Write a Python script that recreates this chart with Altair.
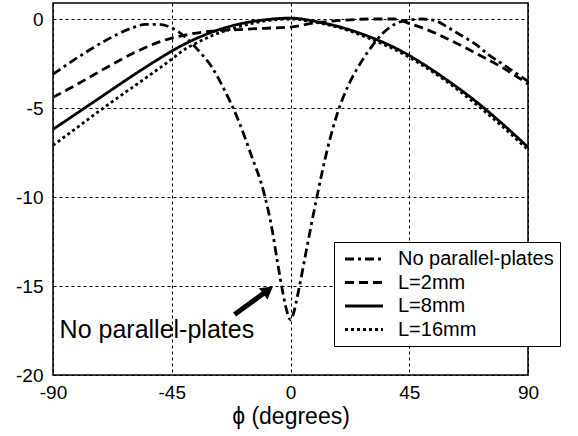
import altair as alt
import pandas as pd

FONT = "Liberation Sans"

series_names = ["No parallel-plates", "L=2mm", "L=8mm", "L=16mm"]

phi_np = [-90, -80, -70, -60, -55, -50, -45, -40, -35, -30, -25, -20, -15, -10, -7, -5, -3, -1, 0,
          1, 3, 6, 10, 14, 18, 22, 26, 30, 35, 40, 45, 50, 55, 60, 65, 70, 75, 80, 85, 90]
val_np = [-3.1, -2.1, -1.2, -0.5, -0.3, -0.3, -0.5, -1.0, -1.75, -2.65, -4.0, -5.6, -7.6, -9.8, -11.8, -13.6, -15.3, -16.6, -16.9,
          -16.6, -15.3, -13.0, -10.0, -7.3, -5.2, -3.7, -2.6, -1.7, -0.8, -0.25, -0.05, 0.0, -0.1, -0.5, -0.95, -1.4, -2.0, -2.5, -3.0, -3.5]

phi_l2 = [-90, -80, -70, -60, -50, -40, -30, -20, -10, 0, 10, 20, 30, 40, 45, 50, 55, 60, 70, 80, 90]
val_l2 = [-4.4, -3.6, -2.75, -1.95, -1.3, -0.9, -0.68, -0.6, -0.52, -0.45, -0.2, -0.07, 0.0, 0.0, -0.25, -0.5, -0.8, -1.15, -1.9, -2.7, -3.65]

phi_l8 = [-90, -80, -70, -60, -50, -45, -40, -35, -30, -20, -10, 0, 10, 20, 30, 40, 45, 50, 60, 70, 80, 90]
val_l8 = [-6.2, -5.2, -4.2, -3.2, -2.25, -1.8, -1.4, -1.05, -0.75, -0.3, -0.05, 0.05, -0.15, -0.5, -1.0, -1.65, -2.05, -2.5, -3.5, -4.6, -5.85, -7.2]

phi_l16 = [-90, -80, -70, -60, -50, -45, -40, -35, -30, -20, -10, 0, 10, 20, 30, 40, 45, 50, 60, 70, 80, 90]
val_l16 = [-7.1, -6.0, -4.9, -3.85, -2.8, -2.25, -1.7, -1.3, -0.95, -0.45, -0.12, 0.0, -0.2, -0.55, -1.1, -1.75, -2.15, -2.6, -3.6, -4.75, -6.0, -7.35]

dash_patterns = [[9, 4, 3, 4], [9, 5], [1, 0], [3, 3]]

# annotation
note_text = ["No parallel-plates"]
note_phi = [-87.5]
note_val = [-17.9]
arrow_tail = [-21.2, -16.6]
arrow_head = [-9.1, -15.3]

rows = []
for name, ps, vs in zip(series_names, [phi_np, phi_l2, phi_l8, phi_l16], [val_np, val_l2, val_l8, val_l16]):
    for p, v in zip(ps, vs):
        rows.append({"phi": p, "val": v, "series": name})
df = pd.DataFrame(rows)

x_scale = alt.Scale(domain=[-90, 90], nice=False)
y_scale = alt.Scale(domain=[-20, 0.9], nice=False)

x_axis = alt.Axis(values=[-90, -45, 0, 45, 90], title="ϕ (degrees)", grid=True, gridDash=[3, 3],
                  gridColor="black", gridWidth=1, gridOpacity=1, domain=False, ticks=False,
                  labelFontSize=19, labelPadding=8, titleFontSize=23, titlePadding=3,
                  labelColor="black", titleColor="black", titleFontWeight="normal", labelFlush=False,
                  labelExpr="'' + datum.value")
y_axis = alt.Axis(values=[-20, -15, -10, -5, 0], title=None, grid=True, gridDash=[3, 3],
                  gridColor="black", gridWidth=1, gridOpacity=1, domain=False, ticks=False,
                  labelFontSize=19, labelPadding=10, labelColor="black",
                  labelExpr="'' + datum.value")

NBSP2 = "\u00a0\u00a0"

lines = alt.Chart(df).mark_line(color="black", strokeWidth=2.8, interpolate="monotone").encode(
    x=alt.X("phi:Q", scale=x_scale, axis=x_axis),
    y=alt.Y("val:Q", scale=y_scale, axis=y_axis),
    strokeDash=alt.StrokeDash(
        "series:N",
        scale=alt.Scale(domain=series_names, range=dash_patterns),
        legend=alt.Legend(orient="none", legendX=281, legendY=239, title=None,
                          strokeColor="black", fillColor="white", padding=6,
                          symbolType="M-0.63,0H3.37", symbolSize=361, symbolStrokeWidth=3,
                          symbolStrokeColor="black", labelFontSize=20, labelOffset=36,
                          rowPadding=2.5, labelFont=FONT, labelColor="black", cornerRadius=0,
                          labelLimit=400,
                          labelExpr="datum.label + '" + NBSP2 + "'"),
    ),
    detail="series:N",
)

note_df = pd.DataFrame({"phi": note_phi, "val": note_val, "text": note_text})
note = alt.Chart(note_df).mark_text(align="left", baseline="alphabetic", fontSize=25, font=FONT,
                                    color="black").encode(
    x=alt.X("phi:Q", scale=x_scale), y=alt.Y("val:Q", scale=y_scale), text="text:N")

arrow_df = pd.DataFrame({"x": [arrow_tail[0]], "y": [arrow_tail[1]], "x2": [arrow_head[0]], "y2": [arrow_head[1]]})
arrow_line = alt.Chart(arrow_df).mark_rule(color="black", strokeWidth=5).encode(
    x=alt.X("x:Q", scale=x_scale), y=alt.Y("y:Q", scale=y_scale), x2="x2:Q", y2="y2:Q")
head_df = pd.DataFrame({"x": [arrow_head[0]], "y": [arrow_head[1]]})
arrow_head_mark = alt.Chart(head_df).mark_point(shape="triangle", filled=True, color="black", opacity=1,
                                                size=200, angle=53).encode(
    x=alt.X("x:Q", scale=x_scale), y=alt.Y("y:Q", scale=y_scale))

chart = alt.layer(lines, arrow_line, arrow_head_mark, note).properties(
    width=475, height=372,
    autosize=alt.AutoSizeParams(type="none"),
    padding={"left": 53, "top": 3, "right": 50, "bottom": 61},
).configure(font=FONT).configure_view(stroke="black", strokeWidth=1.5).configure_axis(
    labelFont=FONT, titleFont=FONT)

chart.save("out.html", embed_options={"renderer": "svg", "actions": False})
